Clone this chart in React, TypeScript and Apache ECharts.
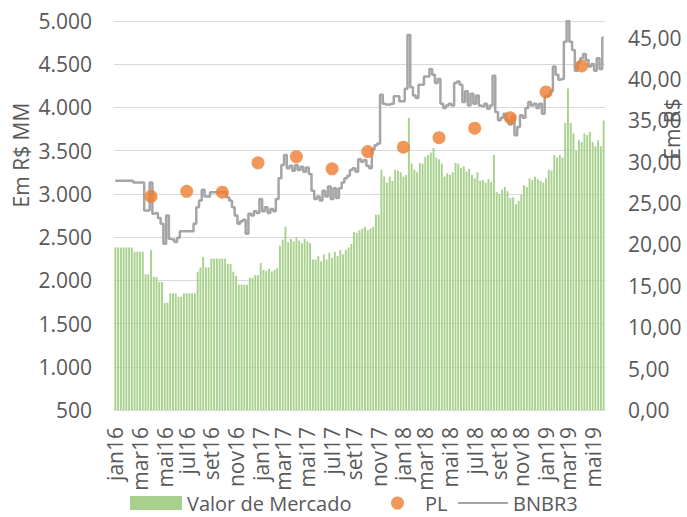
import React, { useEffect, useRef } from "react";
import * as echarts from "echarts";

// Weekly series, starting on 2016-01-01
const startDateUTC = Date.UTC(2016, 0, 1);

const monthNames = ["jan", "fev", "mar", "abr", "mai", "jun", "jul", "ago", "set", "out", "nov", "dez"];

// Valor de Mercado (R$ MM), weekly
const valorMercado = [
  2380, 2380, 2380, 2380, 2380, 2380, 2380,
  2330, 2330, 2330, 2330,
  2070, 2070, 2350, 2040, 2040, 1980, 1980, 1740, 1740,
  1850, 1850, 1850, 1810, 1810, 1850, 1850, 1850, 1850, 1850,
  2100, 2150, 2270, 2150, 2150,
  2250, 2250, 2250, 2250, 2250, 2250,
  2190, 2190, 2100, 2050, 1950, 1950, 1950, 1950, 2030, 2030, 2060, 2060, 2200,
  2120, 2110, 2130, 2100, 2120, 2140,
  2400, 2470, 2620,
  2440, 2480, 2450, 2500, 2460, 2430, 2480, 2450, 2430,
  2240, 2240,
  2280, 2220, 2300, 2240, 2320, 2260, 2330, 2280, 2350, 2300,
  2350, 2380, 2420,
  2560, 2550, 2580, 2600, 2620,
  2580, 2600, 2620, 2760, 2760,
  3280,
  3200, 3130, 3200, 3150, 3280, 3270, 3250, 3200, 3220,
  3880,
  3350, 3280, 3250, 3360, 3350, 3430, 3450, 3480, 3530, 3420, 3400, 3350, 3200, 3240, 3220,
  3250, 3360, 3350, 3300, 3320, 3260, 3290, 3220, 3180, 3250, 3150, 3160, 3130, 3170, 3140,
  3450,
  3020, 3000, 3050, 3080, 3030, 2950, 2960, 2880, 2920, 2990, 3100, 3080, 3180, 3160, 3200,
  3170, 3150, 3130, 3180, 3280, 3270, 3450, 3420, 3450, 3420,
  3820, 4220, 3820, 3700, 3500, 3620, 3600, 3700, 3680, 3720, 3600, 3550, 3620, 3550, 3850,
];

// BNBR3 price (R$), weekly
const bnbr3 = [
  27.7, 27.7, 27.7, 27.7, 27.7, 27.7, 27.7,
  27.5, 27.5, 27.5, 27.5,
  24.1, 24.1, 27.5, 23.7, 23.8, 23.2, 22.5, 20.1, 23.5,
  20.7, 20.6, 20.3, 20.8, 21.6, 21.6, 21.6, 21.6, 21.6, 22.5,
  24.5, 25.3, 26.6, 25.8, 25.8,
  26.3, 26.3, 26.3, 26.3, 26.3, 26.3,
  25.7, 25.3, 24.5, 23.5, 22.5, 22.8, 23.0, 21.3, 23.7, 23.5, 24.0, 23.8, 25.5,
  24.0, 24.5, 23.8, 24.3, 24.0, 25.5,
  28.0, 29.6, 30.8,
  29.2, 29.5, 28.9, 29.6, 29.0, 29.4, 28.8, 29.3, 28.5,
  26.5, 25.5,
  25.8, 25.3, 26.5, 25.8, 27.0, 25.5, 26.8, 25.6, 26.8, 27.5,
  28.0, 28.3, 29.0,
  29.2, 28.8, 30.3, 30.0, 30.2,
  29.5, 29.2, 31.5, 32.0, 32.2,
  38.1,
  37.0, 36.9, 36.9, 37.0, 37.9, 37.9, 37.3, 37.3, 38.8,
  45.3,
  39.0, 38.0, 37.7, 39.3, 39.3, 40.3, 40.3, 41.2, 40.5, 39.5, 40.0, 37.0, 36.5, 36.8, 37.0,
  36.8, 39.5, 39.7, 39.3, 37.2, 38.5, 36.8, 38.2, 37.0, 38.0, 36.8, 36.7, 37.0, 36.4, 36.8,
  40.4,
  36.0, 35.0, 35.3, 35.8, 35.0, 34.5, 35.5, 33.2, 34.2, 35.6, 35.3, 36.5, 37.2, 36.8, 37.0,
  36.5, 37.0, 35.8, 37.9, 38.0, 38.5, 41.5, 40.5, 39.9, 40.0,
  44.5, 47.0, 44.5, 43.5, 41.0, 42.0, 42.5, 43.0, 42.3, 41.5, 41.8, 41.0, 42.5, 41.2, 45.0,
];

// PL (R$ MM), quarterly
const plDates = [
  "2016-04-01", "2016-07-01", "2016-09-30", "2016-12-30",
  "2017-04-07", "2017-07-07", "2017-10-06", "2018-01-05",
  "2018-04-06", "2018-07-06", "2018-10-05", "2019-01-04", "2019-04-05",
];
const plValues = [2970, 3030, 3020, 3360, 3430, 3290, 3490, 3540, 3650, 3760, 3880, 4180, 4480];

const categories = valorMercado.map((_, i) =>
  new Date(startDateUTC + i * 7 * 86400000).toISOString().slice(0, 10)
);

const labelFor = (cat: string): string => {
  const d = new Date(cat + "T00:00:00Z");
  if (d.getUTCDate() <= 7 && d.getUTCMonth() % 2 === 0) {
    return monthNames[d.getUTCMonth()] + String(d.getUTCFullYear()).slice(2);
  }
  return "";
};

const FONT = "Open Sans";
const TXT = "#595959";
const LEGEND_TOP = 493;
const legendText = { fontFamily: FONT, fontSize: 20, color: TXT, lineHeight: 20 };

export default function App() {
  const ref = useRef<HTMLDivElement>(null);
  useEffect(() => {
    document.body.style.margin = "0";
    if (!ref.current) return;
    const chart = echarts.init(ref.current, undefined, { renderer: "svg" });
    const fmtLeft = (v: number) =>
      v >= 1000 ? `${Math.floor(v / 1000)}.${String(v % 1000).padStart(3, "0")}` : String(v);
    const fmtRight = (v: number) => (v % 5 === 0 ? v.toFixed(2).replace(".", ",") : "");
    chart.setOption({
      animation: false,
      textStyle: { fontFamily: FONT },
      grid: { left: 114, right: 82, top: 21, bottom: 107 },
      legend: [
        {
          data: [{ name: "Valor de Mercado", icon: "rect" }],
          left: 130, top: LEGEND_TOP, itemWidth: 52, itemHeight: 14, itemGap: 0, padding: 0,
          textStyle: legendText,
        },
        {
          data: [{ name: "PL", icon: "circle" }],
          left: 391, top: LEGEND_TOP, itemWidth: 13, itemHeight: 13, itemGap: 0, padding: 0,
          textStyle: { ...legendText, padding: [0, 0, 0, 16] },
        },
        {
          data: [{ name: "BNBR3", icon: "rect" }],
          left: 458, top: LEGEND_TOP, itemWidth: 50, itemHeight: 2, itemGap: 0, padding: 0,
          textStyle: legendText,
        },
      ],
      xAxis: {
        type: "category",
        data: categories,
        axisLine: { lineStyle: { color: "#D9D9D9", width: 1 } },
        axisTick: { show: false },
        axisLabel: {
          rotate: 90,
          margin: 17,
          color: TXT,
          fontFamily: FONT,
          fontSize: 21,
          interval: (_i: number, v: string) => labelFor(v) !== "",
          formatter: (v: string) => labelFor(v),
        },
      },
      yAxis: [
        {
          type: "value",
          min: 500,
          max: 5000,
          interval: 500,
          axisLine: { show: false },
          axisTick: { show: false },
          splitLine: { lineStyle: { color: "#D9D9D9", width: 1 } },
          axisLabel: { color: TXT, fontFamily: FONT, fontSize: 21, margin: 22, formatter: fmtLeft },
        },
        {
          type: "value",
          min: 0,
          max: 47,
          interval: 5,
          axisLine: { show: false },
          axisTick: { show: false },
          splitLine: { show: false },
          axisLabel: {
            color: TXT, fontFamily: FONT, fontSize: 21, margin: 23,
            formatter: fmtRight, showMaxLabel: false,
          },
        },
      ],
      graphic: [
        {
          type: "text", x: 21, y: 155, rotation: Math.PI / 2,
          style: { text: "Em R$ MM", fill: TXT, font: `21px "${FONT}"`, textAlign: "center", textVerticalAlign: "middle" },
        },
        {
          type: "text", x: 672, y: 129, rotation: Math.PI / 2,
          style: { text: "Em R$", fill: TXT, font: `21px "${FONT}"`, textAlign: "center", textVerticalAlign: "middle" },
        },
      ],
      series: [
        {
          name: "Valor de Mercado",
          type: "bar",
          data: valorMercado,
          yAxisIndex: 0,
          barCategoryGap: "30%",
          itemStyle: { color: "#A9D18E" },
          z: 1,
        },
        {
          name: "BNBR3",
          type: "line",
          data: bnbr3,
          yAxisIndex: 1,
          step: "middle",
          symbol: "none",
          lineStyle: { color: "#A5A5A5", width: 2.5 },
          itemStyle: { color: "#A5A5A5" },
          z: 3,
        },
        {
          name: "PL",
          type: "scatter",
          data: plDates.map((d, i) => [d, plValues[i]]),
          yAxisIndex: 0,
          symbol: "circle",
          symbolSize: 13,
          itemStyle: { color: "#ED7D31" },
          z: 4,
        },
      ],
    });
    return () => chart.dispose();
  }, []);
  return <div ref={ref} style={{ width: 687, height: 517 }} />;
}
